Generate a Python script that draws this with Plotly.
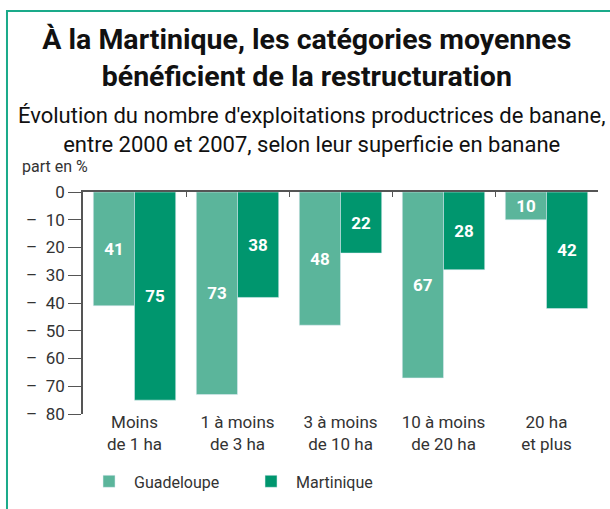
import plotly.graph_objects as go

categories = ["Moins<br>de 1 ha", "1 à moins<br>de 3 ha", "3 à moins<br>de 10 ha", "10 à moins<br>de 20 ha", "20 ha<br>et plus"]
guadeloupe = [-41, -73, -48, -67, -10]
martinique = [-75, -38, -22, -28, -42]
y_ticks = [0, -10, -20, -30, -40, -50, -60, -70, -80]
y_tick_labels = ["0", "–\u200210", "–\u200220", "–\u200230", "–\u200240", "–\u200250", "–\u200260", "–\u200270", "–\u200280"]

FONT = "Roboto"
C_GUA = "#5BB59B"
C_MAR = "#00966E"
TXT = "#333333"

fig = go.Figure()
fig.add_trace(go.Bar(
    x=categories, y=guadeloupe, name="Guadeloupe", marker_color=C_GUA,
    text=[str(-v) for v in guadeloupe], textposition="inside", insidetextanchor="middle",
    textfont=dict(family=FONT, size=17, color="white", weight="bold"),
))
fig.add_trace(go.Bar(
    x=categories, y=martinique, name="Martinique", marker_color=C_MAR,
    text=[str(-v) for v in martinique], textposition="inside", insidetextanchor="middle",
    textfont=dict(family=FONT, size=17, color="white", weight="bold"),
))
fig.add_trace(go.Scatter(x=categories, y=[0]*len(categories), xaxis="x2", mode="none",
                         showlegend=False, hoverinfo="skip"))

fig.update_layout(
    width=610, height=509,
    margin=dict(l=83, r=12, t=192, b=95, autoexpand=False),
    paper_bgcolor="white", plot_bgcolor="white",
    barmode="group", bargap=0.2, bargroupgap=0,
    font=dict(family=FONT, color=TXT, size=16),
    title=dict(text="<b>À la Martinique, les catégories moyennes<br>bénéficient de la restructuration</b>",
               x=0.503, xanchor="center", xref="container", y=0.904, yref="container", yanchor="top",
               font=dict(family=FONT, size=28.5, color="#111111")),
    xaxis=dict(type="category", showline=False, ticks="", showgrid=False, automargin=False,
               tickfont=dict(size=17, color=TXT), range=[-0.5, 4.5], ticklabelstandoff=-4),
    xaxis2=dict(type="category", overlaying="x", side="top", anchor="y", automargin=False,
                showline=True, linecolor="#555555", linewidth=1.5,
                ticks="inside", tickson="boundaries", ticklen=5, tickcolor="#555555",
                showticklabels=False, showgrid=False, range=[-0.5, 4.5]),
    yaxis=dict(range=[-80, 0], tickvals=y_ticks, ticktext=y_tick_labels, automargin=False,
               showline=True, linecolor="#555555", linewidth=1.5,
               ticks="outside", ticklen=13, tickcolor="#555555", showgrid=False,
               zeroline=False, tickfont=dict(size=17, color=TXT)),
    legend=dict(orientation="h", x=0.002, xanchor="left", y=-0.227, yanchor="top",
                font=dict(size=16, color=TXT), itemwidth=40,
                entrywidth=107, entrywidthmode="pixels"),
    showlegend=True,
)

fig.add_annotation(text="Évolution du nombre d'exploitations productrices de banane,<br>entre 2000 et 2007, selon leur superficie en banane",
                   xref="paper", yref="paper", x=0.443, y=1.41, xanchor="center", yanchor="top",
                   showarrow=False, font=dict(family=FONT, size=22, color="#111111"))
fig.add_annotation(text="part en %", xref="paper", yref="paper", x=-0.122, y=1.063,
                   xanchor="left", yanchor="bottom", showarrow=False,
                   font=dict(family=FONT, size=16, color=TXT))
fig.add_shape(type="rect", xref="paper", yref="paper", x0=-0.1476, x1=1.2, y0=-0.6, y1=1.815,
              line=dict(color="#1AAA8A", width=2), fillcolor="rgba(0,0,0,0)", layer="below")

fig.write_html("out.html", config={"displayModeBar": False},
               post_script="document.body.style.margin='0px';")
